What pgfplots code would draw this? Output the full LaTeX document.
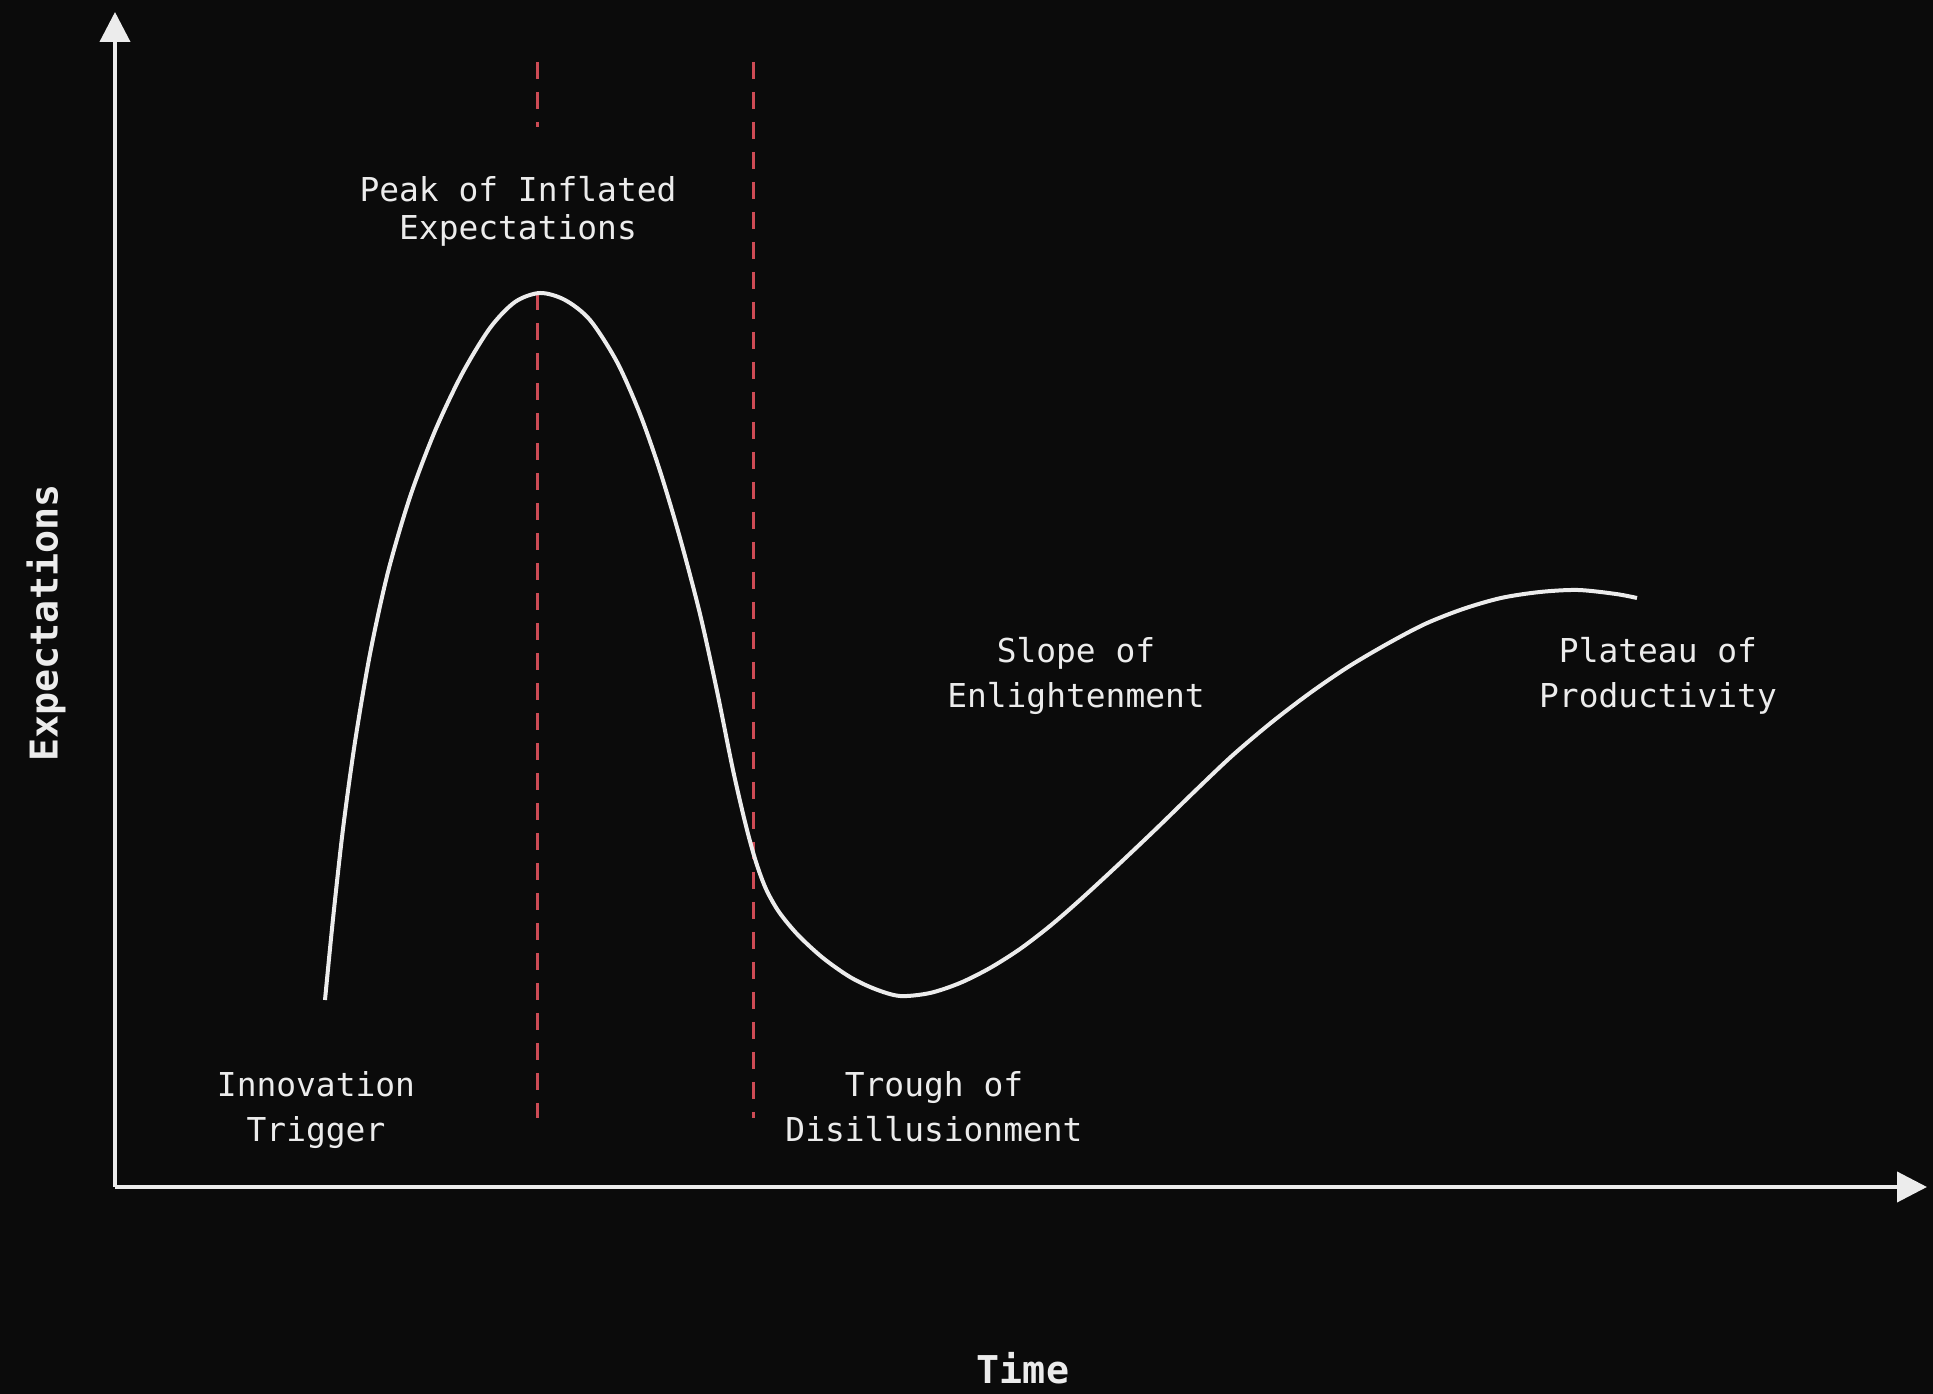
\documentclass[border=0pt]{standalone}
\usepackage{fontspec}
\setmonofont{DejaVu Sans Mono}
\usepackage{pgfplots}
\pgfplotsset{compat=1.18}
\usetikzlibrary{arrows.meta,backgrounds}

\definecolor{bg}{RGB}{11,11,11}
\definecolor{fg}{RGB}{236,236,236}
\definecolor{hype}{RGB}{205,75,85}

% one unit = one pixel of the 1933x1394 picture (0.1mm), y counted upwards
\newcommand{\lab}{\ttfamily\fontsize{9.36pt}{11pt}\selectfont}
\newcommand{\axlab}{\ttfamily\bfseries\fontsize{10.9pt}{12pt}\selectfont}

\begin{document}
\begin{tikzpicture}[show background rectangle, inner frame sep=0pt,
  background rectangle/.style={fill=bg, draw=none}]
\begin{axis}[
    scale only axis,
    width=181.2mm, height=117.5mm,
    xmin=115, xmax=1927,
    ymin=207, ymax=1382,
    axis lines=left,
    axis line style={fg, line width=0.4mm, -{Triangle[length=3mm, width=3mm]}},
    xtick=\empty, ytick=\empty,
    clip=false,
]
% page frame
\path (0,0) rectangle (1933,1394);

% phase markers
\addplot[hype, line width=0.3mm, dash pattern=on 1.7mm off 1.3mm]
  coordinates {(537,1332) (537,1267)};
\addplot[hype, line width=0.3mm, dash pattern=on 1.7mm off 1.3mm]
  coordinates {(537,1101) (537,276)};
\addplot[hype, line width=0.3mm, dash pattern=on 1.7mm off 1.3mm]
  coordinates {(753,1332) (753,276)};

% hype curve
\addplot[fg, line width=0.4mm, smooth] coordinates {
  (325,394) (333,475) (343,565) (355,652) (370,740) (388,822)
  (410,897) (435,963) (462,1020) (490,1066) (515,1092) (540,1101)
  (565,1094) (590,1074) (617,1032) (640,980) (660,923) (680,856)
  (700,780) (717,703) (733,624) (746,568) (756,532) (766,505)
  (779,482) (798,459) (823,436) (850,417) (875,405) (900,398)
  (930,401) (960,411) (990,426) (1020,445) (1050,468) (1080,494)
  (1118,529) (1157,566) (1195,603) (1233,639) (1272,672) (1310,701)
  (1348,727) (1387,750) (1425,770) (1463,785) (1501,796) (1540,802)
  (1578,804) (1616,800) (1637,796)
};

% phase names
\node[text=fg, font=\lab, anchor=base] at (518,1192) {Peak of Inflated};
\node[text=fg, font=\lab, anchor=base] at (518,1154) {Expectations};
\node[text=fg, font=\lab, anchor=base] at (316,297) {Innovation};
\node[text=fg, font=\lab, anchor=base] at (316,252) {Trigger};
\node[text=fg, font=\lab, anchor=base] at (934,297) {Trough of};
\node[text=fg, font=\lab, anchor=base] at (934,252) {Disillusionment};
\node[text=fg, font=\lab, anchor=base] at (1076,731) {Slope of};
\node[text=fg, font=\lab, anchor=base] at (1076,686) {Enlightenment};
\node[text=fg, font=\lab, anchor=base] at (1658,731) {Plateau of};
\node[text=fg, font=\lab, anchor=base] at (1658,686) {Productivity};

% axis titles
\node[text=fg, font=\axlab, rotate=90, anchor=center] at (46,771) {Expectations};
\node[text=fg, font=\axlab, anchor=base, inner sep=0pt] at (1023,10) {Time};
\end{axis}
\end{tikzpicture}
\end{document}
